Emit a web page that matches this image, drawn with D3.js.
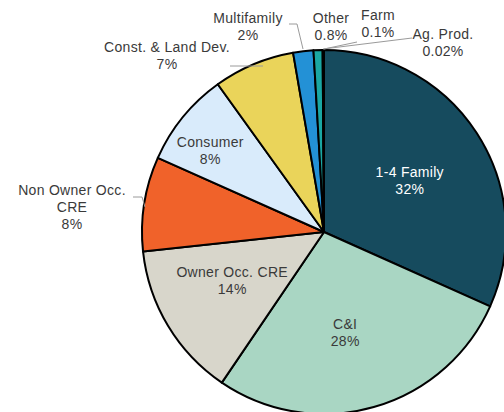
<!DOCTYPE html>
<html>
<head>
<meta charset="utf-8">
<script src="https://cdn.jsdelivr.net/npm/d3@7"></script>
<style>
  body { margin: 0; background: #fff; }
  text { font-family: "Liberation Sans", Arial, sans-serif; }
</style>
</head>
<body>
<svg id="chart"></svg>
<script>
"use strict";

// Loan portfolio composition (clockwise from 12 o'clock)
const categories = ["1-4 Family", "C&I", "Owner Occ. CRE", "Non Owner Occ. CRE", "Consumer",
                    "Const. & Land Dev.", "Multifamily", "Other", "Farm", "Ag. Prod."];
const values = [31.7, 27.8, 13.8, 8.4, 8.4, 7.2, 1.8, 0.8, 0.1, 0.02];
const valueLabels = ["32%", "28%", "14%", "8%", "8%", "7%", "2%", "0.8%", "0.1%", "0.02%"];
const labelLines = [["1-4 Family"], ["C&I"], ["Owner Occ. CRE"], ["Non Owner Occ.", "CRE"], ["Consumer"],
                    ["Const. & Land Dev."], ["Multifamily"], ["Other"], ["Farm"], ["Ag. Prod."]];
const colors = ["#164b5e", "#a9d6c3", "#d8d6cb", "#f0622a", "#d9ebfb",
                "#ead45a", "#2391d6", "#1aa7a3", "#1d3f4a", "#1d3f4a"];

const width = 504, height = 412;
const cx = 324, cy = 232, radius = 182;

// label placement: inside labels use a radius (+ angle nudge in degrees),
// outside ones a point and a leader line
const layout = [
    {r: 100, da: 2, color: "#fff"},
    {r: 103, da: 4},
    {r: 104, da: 3},
    {x: 72, y: 190, leader: [[133, 197], [142, 197], [145, 207]]},
    {r: 140, da: -3.5},
    {x: 167, y: 47, leader: [[230, 66], [263, 66]]},
    {x: 248, y: 18, leader: [[289, 24], [297, 24], [303, 49]]},
    {x: 331, y: 18, leader: null},
    {x: 378, y: 15, leader: [[357, 42], [324, 49]]},
    {x: 443, y: 34, leader: [[412, 38], [323, 49]]}
];

const svg = d3.select("#chart")
    .attr("width", width)
    .attr("height", height)
    .style("background-color", "white");

const g = svg.append("g").attr("transform", "translate(" + cx + "," + cy + ")");

const pie = d3.pie().sort(null).value(function(d) { return d; });
const arcs = pie(values);
const arc = d3.arc().innerRadius(0).outerRadius(radius);

g.selectAll("path.slice")
    .data(arcs)
    .enter()
    .append("path")
    .attr("class", "slice")
    .attr("d", arc)
    .attr("fill", function(d, i) { return colors[i]; })
    .attr("stroke", "#000")
    .attr("stroke-width", 2)
    .attr("stroke-linejoin", "round");

// leader lines
const line = d3.line();
layout.forEach(function(l) {
    if (l.leader) {
        svg.append("path")
            .attr("d", line(l.leader))
            .attr("fill", "none")
            .attr("stroke", "#9a9a9a")
            .attr("stroke-width", 1);
    }
});

// labels
const lineHeight = 17;
arcs.forEach(function(d, i) {
    const l = layout[i];
    let x, y;
    const lines = labelLines[i].concat([valueLabels[i]]);
    if (l.r !== undefined) {
        const a = (d.startAngle + d.endAngle) / 2 + (l.da || 0) * Math.PI / 180;
        x = cx + l.r * Math.sin(a);
        y = cy - l.r * Math.cos(a) - (lines.length - 1) * lineHeight / 2;
    } else {
        x = l.x;
        y = l.y;
    }
    const t = svg.append("text")
        .attr("text-anchor", "middle")
        .attr("font-size", 14)
        .attr("letter-spacing", 0.3)
        .attr("fill", l.color || "#3a3a3a");
    lines.forEach(function(s, j) {
        t.append("tspan")
            .attr("x", x)
            .attr("y", y + j * lineHeight)
            .attr("dy", "0.35em")
            .text(s);
    });
});
</script>
</body>
</html>
